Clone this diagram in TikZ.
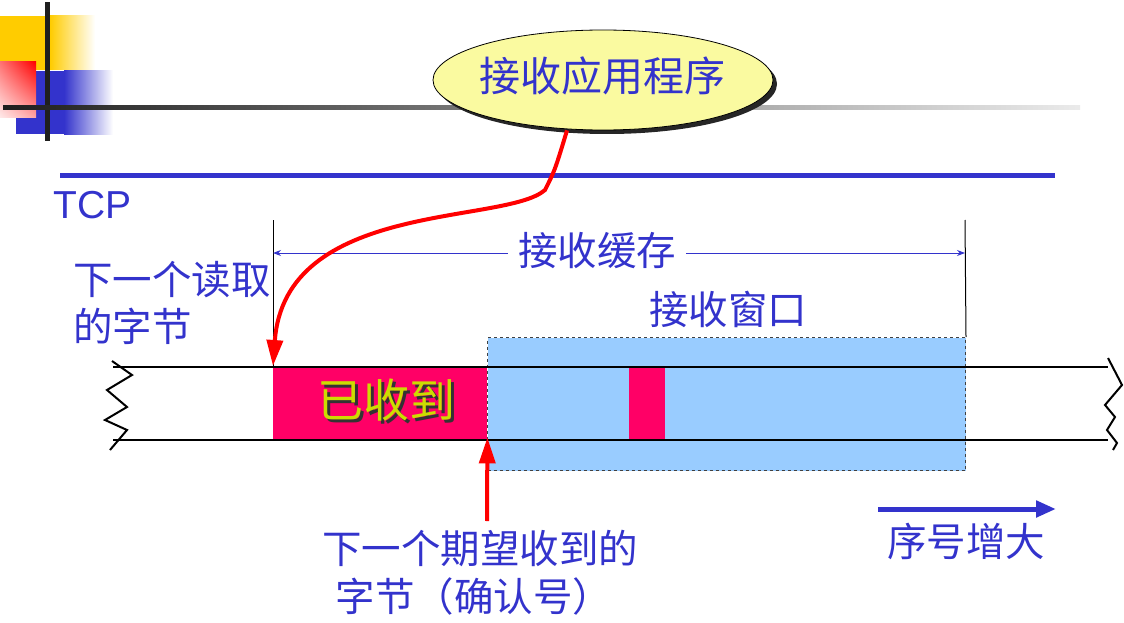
\documentclass[tikz,border=0pt]{standalone}
\usepackage{fontspec}
\setmainfont{Liberation Sans}
\newfontfamily\cjk{Noto Sans CJK SC}
\usetikzlibrary{arrows.meta,shapes.geometric,shadings}
\definecolor{tblue}{HTML}{3333CC}
\definecolor{tpink}{HTML}{FF0066}
\definecolor{tsky}{HTML}{99CCFF}
\definecolor{tyell}{HTML}{FAFAA0}
\definecolor{tgold}{HTML}{FFCC00}
\definecolor{tlab}{HTML}{CCDD00}
\tikzset{
  lbl/.style={text=tblue,font=\cjk\fontsize{39.5}{46}\selectfont,inner sep=0pt},
  band/.style={line width=2.5pt,black},
  redarrow/.style={draw=red,line width=4pt,-{Triangle[length=26pt,width=16pt]}},
}
\begin{document}
\begin{tikzpicture}[x=1pt,y=-1pt]
\useasboundingbox (0,0) rectangle (1124,623);
% decoration
\fill[tgold] (0,16) rectangle (50,70);
\shade[left color=tgold,right color=white] (50,16) rectangle (95,70);
\fill[tblue] (16,71) rectangle (64,134);
\shade[left color=tblue,right color=white] (64,71) rectangle (113,135);
\shade[upper right=red,upper left=red!55!white,lower right=red!35!white,lower left=red!8!white] (0,62) rectangle (36,118);
\fill[black!88] (45,2) rectangle (50,141);
\shade[left color=black!88,right color=black!8] (3,106) rectangle (1080,110);
% receiving application ellipse
\fill[black!85] (607,84) ellipse [x radius=170pt,y radius=50pt];
\node[ellipse,draw=black,line width=0.8pt,fill=tyell,minimum width=340pt,minimum height=100pt,inner sep=0pt] (app) at (603,80) {};
\node[lbl,font=\cjk\fontsize{41}{46}\selectfont] (apptxt) at (602,76) {接收应用程序};
% TCP line
\draw[tblue,line width=5pt] (60,175) -- (1055,175);
\node[lbl,font=\fontsize{39}{44}\selectfont,anchor=west] (tcp) at (53,205) {TCP};
% receive window
\node[draw=black!75,dashed,line width=1pt,fill=tsky,minimum width=478pt,minimum height=133pt,inner sep=0pt,anchor=north west] (win) at (487,337) {};
% received block
\node[fill=tpink,minimum width=214pt,minimum height=74pt,inner sep=0pt,anchor=north west] (recv) at (273,366) {};
\node[fill=tpink,minimum width=36pt,minimum height=74pt,inner sep=0pt,anchor=north west] (seg) at (629,366) {};
\node[text=tlab,font=\cjk\fontsize{46}{52}\selectfont,inner sep=0pt] (rtxt) at (386,402) {\makebox[0pt][l]{\kern3pt\raisebox{-3pt}{\color{black!80}已收到}}\color{tlab}已收到};
% sequence band
\draw[band] (113,367) -- (1108,367);
\draw[band] (113,440) -- (1108,440);
\draw[black,line width=2pt] (112,361) -- (132,375) -- (107,390) -- (127,407) -- (105,420) -- (127,430) -- (110,450);
\draw[black,line width=2pt] (1108,358) -- (1122,385) -- (1105,405) -- (1115,417) -- (1107,430) -- (1117,443) -- (1113,450);
% buffer limits
\coordinate (bl) at (273,220);
\coordinate (br) at (965,220);
\draw[black,line width=1pt] (bl) -- (recv.north west);
\draw[black,line width=1pt] (br) -- (win.north east);
\coordinate (al) at (273,253);
\coordinate (ar) at (965,253);
\node[lbl] (buf) at (597,251) {接收缓存};
\draw[tblue,line width=1pt,-{Stealth[length=8pt,width=6pt]}] (buf.west) ++(-10,2) -- (al);
\draw[tblue,line width=1pt,-{Stealth[length=8pt,width=6pt]}] (buf.east) ++(10,2) -- (ar);
\node[lbl] (wintxt) at (728,309) {接收窗口};
\node[lbl,anchor=west] (read1) at (73,280) {下一个读取};
\node[lbl,anchor=west] (read2) at (73,326) {的字节};
% red curve from application
\draw[redarrow] (app.south) ++(-36,0) .. controls (555,170) .. (545,190) .. controls (505,225) and (285,200) .. (recv.north west);
% expected arrow
\coordinate (exp) at (487,521);
\draw[redarrow] (exp) -- ([yshift=3pt]recv.south east);
\node[lbl] (e1) at (480,548) {下一个期望收到的};
\node[lbl] (e2) at (474,596) {字节（确认号）};
% sequence increases
\coordinate (s1) at (878,509);
\coordinate (s2) at (1056,509);
\draw[tblue,line width=5pt,-{Triangle[length=20pt,width=16pt]}] (s1) -- (s2);
\node[lbl] (seqtxt) at (966,541) {序号增大};
\end{tikzpicture}
\end{document}
